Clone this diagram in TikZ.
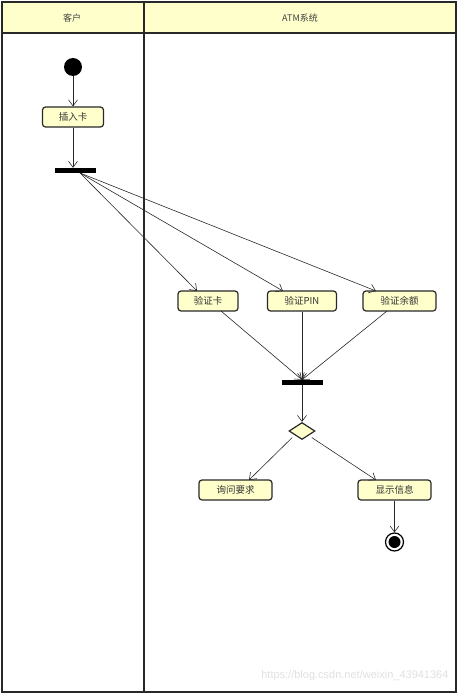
\documentclass[tikz,border=0pt]{standalone}
\usepackage{fontspec}
\setmainfont{Liberation Sans}
\newfontfamily\cjk{Noto Sans CJK SC}
\usetikzlibrary{arrows.meta,shapes.geometric}
\definecolor{boxfill}{RGB}{255,255,204}
\definecolor{framec}{RGB}{40,40,40}
\tikzset{
  act/.style={draw=framec,line width=1.2pt,fill=boxfill,rounded corners=3pt,minimum height=20pt,inner sep=2pt,font=\cjk\fontsize{9.5}{10}\selectfont,text=black!80},
  bar/.style={fill=black,minimum width=41pt,minimum height=5pt,inner sep=0pt},
  flow/.style={draw=framec,line width=0.6pt,-{Straight Barb[length=6pt,width=9pt]}},
  hdr/.style={font=\cjk\fontsize{9}{10}\selectfont,text=black!75}
}
\begin{document}
\begin{tikzpicture}[x=1pt,y=-1pt]
\useasboundingbox (0,0) rectangle (459,695);
% lanes
\fill[boxfill] (2,2) rectangle (456,33);
\draw[framec,line width=1.5pt] (2,2) rectangle (456,692);
\draw[framec,line width=1.5pt] (2,33) -- (456,33);
\draw[framec,line width=1.5pt] (144,2) -- (144,692);
\node[hdr] (h1) at (72,18) {客户};
\node[hdr] (h2) at (300,18) {ATM系统};
% nodes
\node[circle,fill=black,minimum size=18pt,inner sep=0pt] (start) at (73,67) {};
\node[act,minimum width=61pt] (insert) at (73,117) {插入卡};
\node[bar] (fork) at (75,170.5) {};
\node[act,minimum width=60pt] (vcard) at (208,301) {验证卡};
\node[act,minimum width=69pt] (vpin) at (302,301) {验证PIN};
\node[act,minimum width=73pt] (vbal) at (399.5,301) {验证余额};
\node[bar] (join) at (302,382.5) {};
\node[diamond,draw=framec,line width=1.2pt,fill=boxfill,minimum width=26pt,minimum height=17pt,inner sep=0pt] (dec) at (302,431) {};
\node[act,minimum width=73pt] (ask) at (235.5,490) {询问要求};
\node[act,minimum width=73pt] (show) at (394.5,490) {显示信息};
\node[circle,draw=black,line width=1.2pt,minimum size=18pt,inner sep=0pt] (end) at (394.5,542) {};
\fill[black] (end.center) circle (6pt);
% coordinates
\coordinate (f0) at (80,173);
% edges
\draw[flow] (start) -- (insert);
\draw[flow] (insert.south) -- (insert.south |- fork.north);
\draw[flow] (f0) -- (197,291);
\draw[flow] (f0) -- (283,291);
\draw[flow] (f0) -- (376,291);
\draw[flow] (221,311) -- (join.north);
\draw[flow] (vpin.south) -- (join.north);
\draw[flow] (387,311) -- (join.north);
\draw[flow] (join) -- (dec);
\draw[flow] (dec.south west) ++(-3,2) -- (249,480);
\draw[flow] (dec.south east) ++(3,2) -- (376,480);
\draw[flow] (show) -- (end);
% watermark
\node[anchor=east,text=black!12,font=\fontsize{11}{12}\selectfont] (wm) at (452,676) {https://blog.csdn.net/weixin\_43941364};
\end{tikzpicture}
\end{document}
